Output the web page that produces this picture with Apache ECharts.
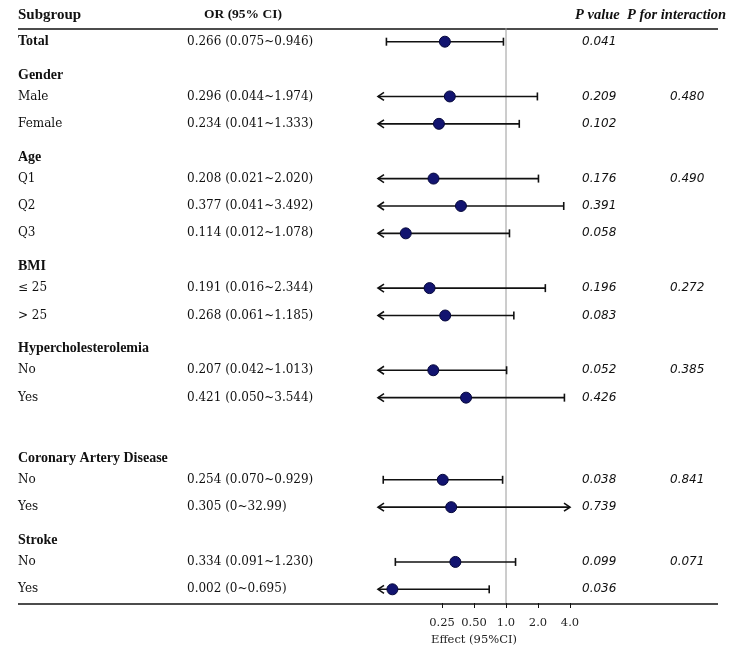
<!DOCTYPE html>
<html>
<head>
<meta charset="utf-8">
<script src="https://cdn.jsdelivr.net/npm/echarts@6/dist/echarts.min.js"></script>
<style>html,body{margin:0;padding:0;background:#fff;}#c{width:744px;height:651px;}</style>
</head>
<body>
<div id="c"></div>
<script>
// ---- data ----
const rowLabels = ['Total','Gender','Male','Female','Age','Q1','Q2','Q3','BMI','\u2264 25','> 25','Hypercholesterolemia','No','Yes','','Coronary Artery Disease','No','Yes','Stroke','No','Yes'];
const boldRows = ['Total','Gender','Age','BMI','Hypercholesterolemia','Coronary Artery Disease','Stroke'];
const orVals = [0.266,null,0.296,0.234,null,0.208,0.377,0.114,null,0.191,0.268,null,0.207,0.421,null,null,0.254,0.305,null,0.334,0.002];
const ciLow  = [0.075,null,0.044,0.041,null,0.021,0.041,0.012,null,0.016,0.061,null,0.042,0.050,null,null,0.070,0,null,0.091,0];
const ciHigh = [0.946,null,1.974,1.333,null,2.020,3.492,1.078,null,2.344,1.185,null,1.013,3.544,null,null,0.929,32.99,null,1.230,0.695];
const pValues = ['0.041','','0.209','0.102','','0.176','0.391','0.058','','0.196','0.083','','0.052','0.426','','','0.038','0.739','','0.099','0.036'];
const pInteraction = ['','','0.480','','','0.490','','','','0.272','','','0.385','','','','0.841','','','0.071',''];
const tickValues = [0.25, 0.5, 1, 2, 4];
const axisMin = 0.0625, axisMax = 4;
const refValue = 1;

// ---- derived ----
const XMIN = Math.log2(axisMin), XMAX = Math.log2(axisMax);
function fmt(v){ if (v === 0) return '0'; if (v >= 10) return v.toFixed(2); return v.toFixed(3); }
const orTexts = orVals.map((v,i) => v == null ? '' : v.toFixed(3) + ' (' + fmt(ciLow[i]) + '~' + fmt(ciHigh[i]) + ')');
const barData = [], ptData = [];
orVals.forEach((v,i) => {
  if (v == null) return;
  const lo = ciLow[i] > 0 ? Math.log2(ciLow[i]) : XMIN - 10;
  const hi = Math.log2(ciHigh[i]);
  barData.push([Math.max(lo, XMIN), Math.min(hi, XMAX), i, lo < XMIN ? 1 : 0, hi > XMAX ? 1 : 0]);
  ptData.push([Math.max(Math.log2(v), XMIN + 0.45), i]);
});

const serif = 'DejaVu Serif';
const boldSerif = 'Liberation Serif';
const chart = echarts.init(document.getElementById('c'));
const catAxis = (data, pos, margin, style) => ({
  type: 'category', inverse: true, data: data, position: pos,
  axisLine: {show:false}, axisTick: {show:false}, splitLine: {show:false},
  axisLabel: Object.assign({interval: 0, margin: margin, align: 'left', color: '#111'}, style)
});
chart.setOption({
  animation: false,
  grid: {left: 378, right: 174, top: 28, bottom: 47},
  xAxis: {
    type: 'value', min: XMIN, max: XMAX, interval: 1,
    axisLine: {show: false},
    splitLine: {show: false},
    axisTick: {show: true, customValues: tickValues.map(Math.log2), length: 5, lineStyle: {color: '#111', width: 1}},
    axisLabel: {customValues: tickValues.map(Math.log2), fontFamily: serif, fontSize: 11.5, color: '#222', margin: 14,
      formatter: v => { const r = Math.pow(2, v); return r < 1 ? r.toFixed(2) : r.toFixed(1); }},
    name: 'Effect (95%CI)', nameLocation: 'middle', nameGap: 31,
    nameTextStyle: {fontFamily: serif, fontSize: 11.5, color: '#222'}
  },
  yAxis: [
    catAxis(rowLabels, 'left', 360, {fontFamily: serif, fontSize: 12,
      formatter: (v, i) => boldRows.indexOf(v) >= 0 ? (orVals[i] == null ? '{h|' + v + '}' : '{b|' + v + '}') : '{n|' + v + '}',
      rich: {
        b: {fontFamily: boldSerif, fontWeight: 'bold', fontSize: 14, color: '#111'},
        h: {fontFamily: boldSerif, fontWeight: 'bold', fontSize: 14, color: '#111', padding: [12, 0, 0, 0]},
        n: {fontFamily: serif, fontSize: 12, color: '#111'}}}),
    catAxis(orTexts, 'left', 191, {fontFamily: serif, fontSize: 12}),
    catAxis(pValues, 'right', 12, {fontFamily: 'DejaVu Sans', fontStyle: 'italic', fontSize: 12, padding: [0,0,6,0]}),
    catAxis(pInteraction, 'right', 100, {fontFamily: 'DejaVu Sans', fontStyle: 'italic', fontSize: 12, padding: [0,0,6,0]})
  ],
  series: [
    {
      type: 'custom', yAxisIndex: 0, data: [[Math.log2(refValue)]], encode: {x: 0}, z: 1,
      renderItem: (params, api) => {
        const cs = params.coordSys;
        const x = api.coord([api.value(0), 0])[0];
        return {type: 'line', shape: {x1: x, y1: cs.y, x2: x, y2: cs.y + cs.height}, style: {stroke: '#9a9a9a', lineWidth: 1}};
      }
    },
    {
      type: 'custom', yAxisIndex: 0, data: barData, encode: {x: [0, 1], y: 2}, z: 3,
      renderItem: (params, api) => {
        const a = api.coord([api.value(0), api.value(2)]);
        const b = api.coord([api.value(1), api.value(2)]);
        const y = a[1];
        const st = {stroke: '#111', lineWidth: 1.6, fill: null};
        const ch = [{type: 'line', shape: {x1: a[0], y1: y, x2: b[0], y2: y}, style: st}];
        if (api.value(3)) ch.push({type: 'polyline', shape: {points: [[a[0]+6, y-4], [a[0], y], [a[0]+6, y+4]]}, style: st});
        else ch.push({type: 'line', shape: {x1: a[0], y1: y-4, x2: a[0], y2: y+4}, style: st});
        if (api.value(4)) ch.push({type: 'polyline', shape: {points: [[b[0]-6, y-4], [b[0], y], [b[0]-6, y+4]]}, style: st});
        else ch.push({type: 'line', shape: {x1: b[0], y1: y-4, x2: b[0], y2: y+4}, style: st});
        return {type: 'group', children: ch};
      }
    },
    {
      type: 'scatter', yAxisIndex: 0, data: ptData, symbolSize: 11, z: 5,
      itemStyle: {color: '#121470', borderColor: '#05073a', borderWidth: 1, opacity: 1}
    }
  ],
  graphic: [
    {type: 'line', shape: {x1: 18, y1: 29, x2: 718, y2: 29}, style: {stroke: '#111', lineWidth: 1.5}},
    {type: 'line', shape: {x1: 18, y1: 604, x2: 718, y2: 604}, style: {stroke: '#111', lineWidth: 1.5}},
    {type: 'text', x: 18, y: 15, style: {text: 'Subgroup', font: 'bold 15px "Liberation Serif"', fill: '#111', verticalAlign: 'middle'}},
    {type: 'text', x: 243, y: 15, style: {text: 'OR (95% CI)', font: 'bold 13.5px "Liberation Serif"', fill: '#111', align: 'center', verticalAlign: 'middle'}},
    {type: 'text', x: 575, y: 15, style: {text: 'P value', font: 'italic bold 14.5px "Liberation Serif"', fill: '#111', verticalAlign: 'middle'}},
    {type: 'text', x: 627, y: 15, style: {text: 'P for interaction', font: 'italic bold 14.5px "Liberation Serif"', fill: '#111', verticalAlign: 'middle'}}
  ]
});
</script>
</body>
</html>
